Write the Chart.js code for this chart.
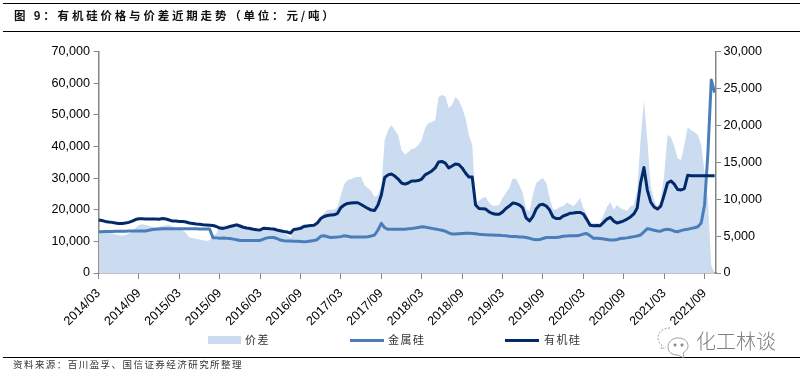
<!DOCTYPE html>
<html><head><meta charset="utf-8">
<script src="https://cdn.jsdelivr.net/npm/chart.js@4/dist/chart.umd.min.js"></script>
<style>
html,body{margin:0;padding:0;background:#fff;width:800px;height:376px;overflow:hidden}
#wrap{position:relative;width:800px;height:376px}
canvas{position:absolute;left:0;top:0}
.rule{position:absolute;left:3px;right:0;background:#000}
.t{position:absolute;font-family:"Noto Sans CJK SC",sans-serif;white-space:nowrap;line-height:1}
.lg{position:absolute;font-family:"Noto Sans CJK SC",sans-serif;font-size:11px;letter-spacing:1.5px;color:#333;line-height:1;white-space:nowrap}
</style></head><body>
<div id="wrap">
<canvas id="c" width="800" height="376"></canvas>
<div class="rule" style="top:3px;height:1px"></div>
<div class="rule" style="top:31px;height:1px"></div>
<div class="rule" style="top:357px;height:1px"></div>
<div class="t" style="left:14px;top:10px;font-size:11.5px;font-weight:700;letter-spacing:2.8px;color:#111">图 9：有机硅价格与价差近期走势（单位：元/吨）</div>
<div class="t" style="left:13px;top:360px;font-size:9.5px;letter-spacing:1.45px;color:#333">资料来源：百川盈孚、国信证券经济研究所整理</div>
<div id="legend"></div>
<svg style="position:absolute;left:656px;top:326px" width="34" height="34" viewBox="0 0 34 34" fill="none" stroke="#8a8a8a" stroke-width="0.8">
<path d="M14 2C7 2 2 6 2 12c0 3 2 6 4 7l-1 4 5-2" stroke-dasharray="2 1.5"/>
<path d="M22 12c-6 0-10 4-10 9s4 8 10 8l6 3-1-5c3-2 5-4 5-7 0-5-4-8-10-8z"/>
<circle cx="19" cy="19" r="1.2" fill="#8a8a8a"/><circle cx="26" cy="19" r="1.2" fill="#8a8a8a"/>
</svg>
<div class="t" style="left:696px;top:331px;font-size:20px;font-weight:300;color:#808080">化工林谈</div>
</div>
<script>
const tickLabels = ["2014/03","2014/09","2015/03","2015/09","2016/03","2016/09","2017/03","2017/09","2018/03","2018/09","2019/03","2019/09","2020/03","2020/09","2021/03","2021/09"];
const samplesPerTick = 12;
const seriesNames = ["价差","金属硅","有机硅"];
const spread = [5950,5550,5500,5400,5350,5200,5150,5050,5150,5300,5550,6100,6500,6600,6500,6350,6250,6200,6250,6350,6450,6500,6300,6100,6100,5800,5400,4800,4750,4650,4550,4450,4350,4450,5000,5300,6350,6400,6450,6500,6650,6850,6650,6350,6250,6100,6050,5950,5950,6250,6100,6050,5900,5750,5700,5400,5150,4800,5700,6250,6400,6600,6550,6500,6450,6900,7700,8100,8550,8550,8550,8950,10550,12050,12600,12700,12950,13000,13050,11900,11500,11100,10300,10550,11800,18000,19350,20050,19350,18700,16650,16000,16400,16800,16900,17350,18000,19650,20300,20450,20700,23850,24100,23950,22350,22750,23850,23400,22350,21000,18700,17350,9350,9750,10150,10300,9500,9100,9100,9200,10150,10850,11500,12750,12750,11900,10850,8650,8400,10550,12200,12600,12850,12200,10150,8550,8650,8950,9050,9500,9350,9050,9500,10150,8800,8000,6900,6750,6750,6750,7850,8950,9600,8550,9200,8800,8550,8400,9050,9200,11250,18000,23400,18000,11800,9900,8950,9900,13250,18700,18400,17200,15550,15300,17350,19750,19350,19100,18700,17350,13700,9900,1000,0];
const metalSilicon = [13000,13050,13100,13150,13150,13200,13200,13200,13200,13250,13250,13250,13250,13300,13300,13500,13750,13850,13900,13950,13950,13950,13950,13950,13950,13950,13950,13950,13950,13950,13900,13900,13900,13900,11150,11100,11000,11050,10950,10900,10700,10500,10300,10300,10300,10300,10300,10300,10300,10700,11100,11200,11200,10900,10400,10200,10150,10100,10050,10000,9950,9900,9950,10100,10250,10600,11600,11800,11450,11250,11300,11350,11500,11750,11600,11400,11400,11400,11400,11400,11450,11700,12000,13600,15700,14300,13800,13800,13800,13800,13850,13850,13950,14050,14200,14400,14600,14500,14300,14100,13900,13700,13500,13200,12700,12300,12300,12400,12500,12550,12600,12500,12400,12250,12150,12050,12000,12000,11950,11950,11850,11800,11600,11550,11500,11400,11400,11200,11000,10650,10500,10550,10900,11200,11200,11200,11250,11400,11600,11700,11800,11800,11800,11950,12300,12500,11800,11000,10950,10900,10750,10600,10400,10450,10600,10900,11000,11100,11300,11500,11700,12000,13000,14000,13800,13500,13250,13200,13700,13800,13650,13200,13050,13400,13700,13800,14100,14300,14600,15800,21500,38000,61000,57000];
const organicSilicon = [16750,16600,16300,16100,16000,15800,15650,15650,15800,16000,16400,16900,17150,17150,17100,17050,17050,17050,17000,17200,17050,16750,16400,16400,16300,16300,16100,15800,15650,15500,15400,15250,15200,15100,15000,14700,14200,14100,14350,14700,14950,15200,14850,14450,14200,14050,13800,13650,13600,14150,14050,13950,13900,13600,13350,13100,12950,12600,13750,13900,14100,14700,14850,15000,15100,15800,17200,17850,18150,18300,18400,18850,20700,21500,22000,22100,22200,22200,21650,21000,20400,19900,19750,21500,24650,30200,31000,31300,30650,29700,28450,28100,28450,29100,29100,29200,29700,31000,31600,32250,33200,35100,35250,34750,33200,33800,34450,34300,33200,31600,30350,30350,21500,20400,20300,20200,19300,18800,18550,18550,19300,20400,21150,22100,21950,21500,20550,17400,16450,17800,20250,21500,21700,21150,19900,17700,17200,17200,18000,18400,18850,18950,19100,19150,18650,16950,15100,14950,15000,14950,16000,17050,17600,16400,15800,16100,16500,17050,17700,18650,20550,28450,33350,26200,22450,20850,20200,21150,24650,28450,29100,28100,26400,26250,26700,30900,30750,30700,30700,30700,30700,30700,30700,30700];
const colors = {spread:"#CBDBF0", metal:"#4A7EBB", organic:"#022A6B", axis:"#868686"};

const pts = a => a.map((v,i)=>({x:i,y:v}));
const fmt = v => Number(v).toLocaleString("en-US");
const font = {family:'"Liberation Sans",Arial,sans-serif', size:12.6};

new Chart(document.getElementById("c"),{
  type:"line",
  data:{datasets:[
    {label:seriesNames[0],data:pts(spread),yAxisID:"yR",order:3,fill:"origin",backgroundColor:colors.spread,borderWidth:0,pointRadius:0,tension:0},
    {label:seriesNames[1],data:pts(metalSilicon),yAxisID:"yL",order:2,fill:false,borderColor:colors.metal,borderWidth:3,pointRadius:0,tension:0,borderJoinStyle:"round"},
    {label:seriesNames[2],data:pts(organicSilicon),yAxisID:"yL",order:1,fill:false,borderColor:colors.organic,borderWidth:3,pointRadius:0,tension:0,borderJoinStyle:"round"}
  ]},
  options:{
    responsive:false,animation:false,events:[],
    layout:{padding:{top:51.5,left:0,right:0,bottom:0}},
    plugins:{legend:{display:false},title:{display:false},tooltip:{enabled:false}},
    scales:{
      x:{type:"linear",min:0,max:183.4,
        grid:{drawOnChartArea:false,drawTicks:true,tickLength:6,tickColor:colors.axis,tickWidth:1},
        border:{color:colors.axis,width:1.5},
        afterFit:s=>{s.height=103},
        ticks:{stepSize:samplesPerTick,includeBounds:false,autoSkip:false,minRotation:45,maxRotation:45,color:"#000",font,padding:7,
          callback:v=>tickLabels[v/samplesPerTick]}},
      yL:{type:"linear",position:"left",min:0,max:70000,
        grid:{drawOnChartArea:false,drawTicks:true,tickLength:5,tickColor:colors.axis},
        border:{color:colors.axis,width:1.5},
        afterFit:s=>{s.width=98.5},
        ticks:{stepSize:10000,color:"#000",font,padding:3.5,callback:fmt}},
      yR:{type:"linear",position:"right",min:0,max:30000,
        grid:{drawOnChartArea:false,drawTicks:true,tickLength:5,tickColor:colors.axis},
        border:{color:colors.axis,width:1.5},
        afterFit:s=>{s.width=84},
        ticks:{stepSize:5000,color:"#000",font,padding:2.5,callback:fmt}}
    }
  }
});

const lg = document.getElementById("legend");
[[208,33,8,colors.spread,245],[350,34,3,colors.metal,388],[505,34,3,colors.organic,544]].forEach((m,i)=>{
  const b=document.createElement("div");
  b.style.cssText=`position:absolute;left:${m[0]}px;top:${340-m[2]/2}px;width:${m[1]}px;height:${m[2]}px;background:${m[3]}`;
  const t=document.createElement("div");
  t.className="lg";t.textContent=seriesNames[i];
  t.style.left=m[4]+"px";t.style.top="334px";
  lg.append(b,t);
});
</script>
</body></html>
